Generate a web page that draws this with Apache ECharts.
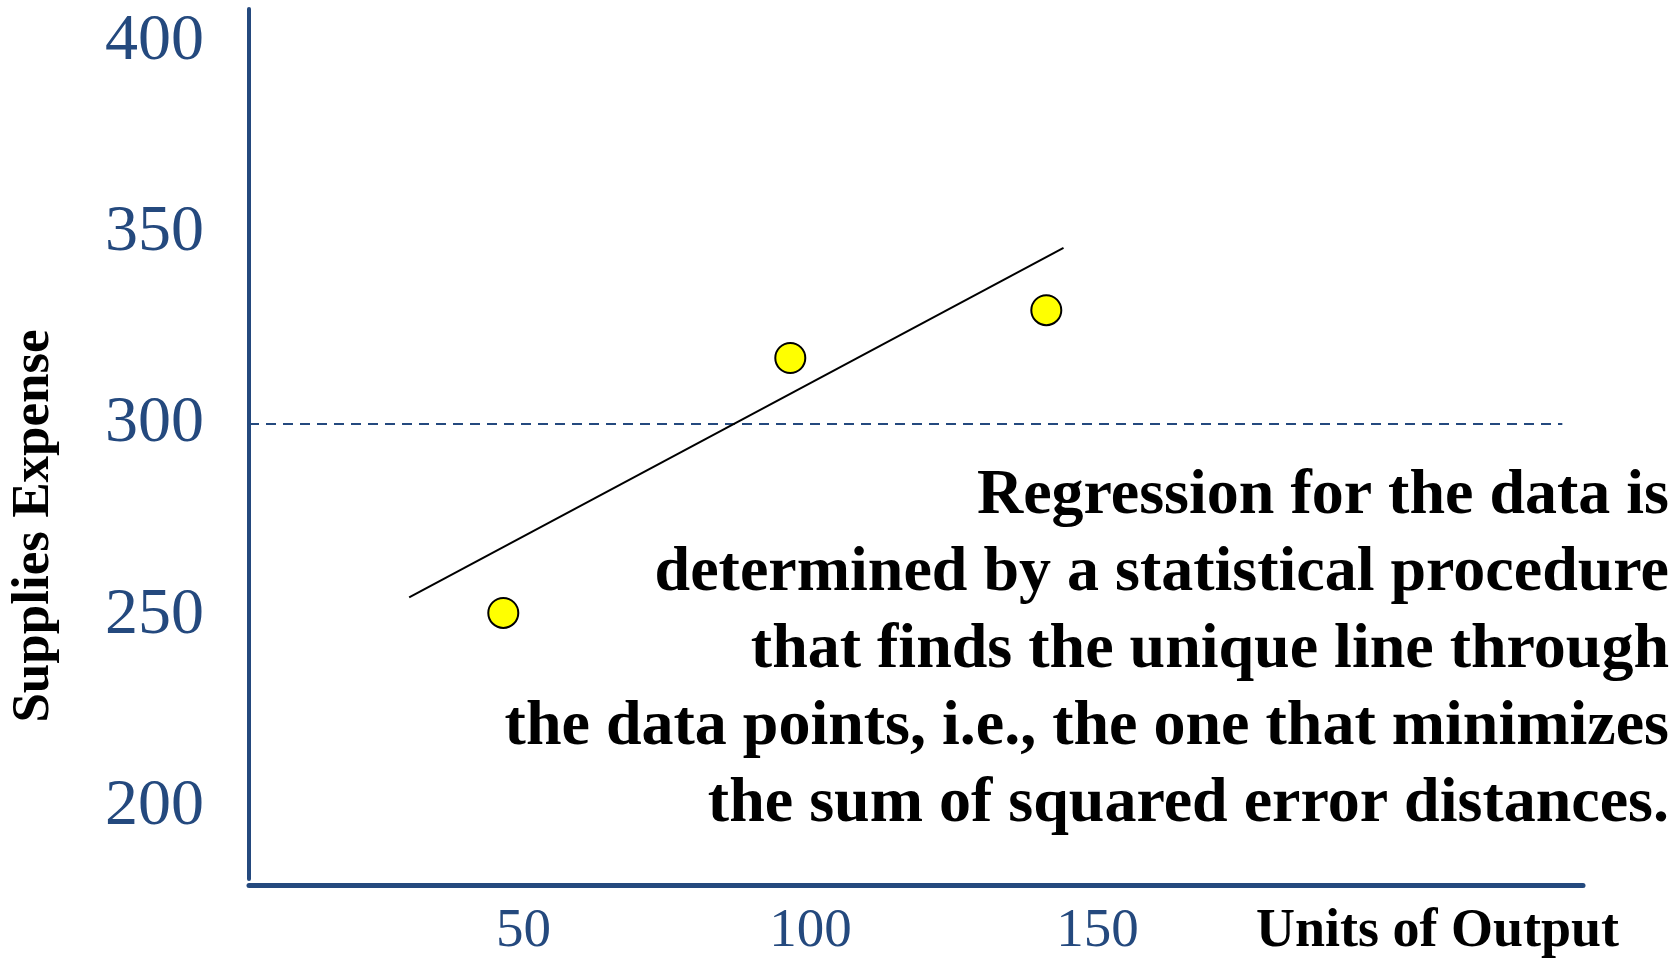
<!DOCTYPE html>
<html>
<head>
<meta charset="utf-8">
<script src="https://cdn.jsdelivr.net/npm/echarts@6/dist/echarts.min.js"></script>
<style>
  html, body { margin: 0; padding: 0; background: #ffffff; }
  #chart { width: 1680px; height: 959px; }
</style>
</head>
<body>
<div id="chart"></div>
<script>
// ---- data ----
const xTickLabels = [50, 100, 150];
const yTickLabels = [200, 250, 300, 350, 400];
const pointsX = [46.5, 96.5, 141.1];
const pointsY = [250.6, 317.3, 329.8];
const fitLineX = [30.1, 144.1];
const fitLineY = [254.7, 346.1];
const refLineY = [300, 300];
const refLineX = [2.2, 231];
const xRange = [2.2, 234.6];
const yRange = [181, 408.6];
const xAxisTitle = 'Units of Output';
const yAxisTitle = 'Supplies Expense';
const noteLines = [
  'Regression for the data is',
  'determined by a statistical procedure',
  'that finds the unique line through',
  'the data points, i.e., the one that minimizes',
  'the sum of squared error distances.'
];

const AXIS_BLUE = '#24497E';
const SERIF = '"Liberation Serif", "Times New Roman", serif';

const chart = echarts.init(document.getElementById('chart'), null, { renderer: 'canvas' });

const scatterData = pointsX.map((x, i) => [x, pointsY[i]]);
const fitData = fitLineX.map((x, i) => [x, fitLineY[i]]);
const refData = refLineX.map((x, i) => [x, refLineY[i]]);

chart.setOption({
  animation: false,
  backgroundColor: '#ffffff',
  grid: { left: 247, right: 97, top: 9, bottom: 76, containLabel: false },
  xAxis: {
    type: 'value',
    min: xRange[0],
    max: xRange[1],
    offset: 6,
    axisLine: { show: true, lineStyle: { color: AXIS_BLUE, width: 5 } },
    axisTick: { show: false },
    splitLine: { show: false },
    axisLabel: {
      customValues: xTickLabels,
      margin: 19,
      color: AXIS_BLUE,
      fontFamily: SERIF,
      fontSize: 55
    },
    name: xAxisTitle,
    nameLocation: 'end',
    nameGap: 36,
    nameTextStyle: {
      color: '#000000',
      fontFamily: SERIF,
      fontWeight: 'bold',
      fontSize: 54,
      align: 'right',
      verticalAlign: 'top',
      padding: [20, 0, 0, 0]
    }
  },
  yAxis: {
    type: 'value',
    min: yRange[0],
    max: yRange[1],
    axisLine: { show: true, lineStyle: { color: AXIS_BLUE, width: 4 } },
    axisTick: { show: false },
    splitLine: { show: false },
    axisLabel: {
      customValues: yTickLabels,
      margin: 45,
      color: AXIS_BLUE,
      fontFamily: SERIF,
      fontSize: 66,
      padding: [14, 0, 0, 0]
    },
    name: yAxisTitle,
    nameLocation: 'middle',
    nameRotate: 90,
    nameGap: 188,
    nameTextStyle: {
      color: '#000000',
      fontFamily: SERIF,
      fontWeight: 'bold',
      fontSize: 53,
      padding: [0, 164, 0, 0]
    }
  },
  graphic: [{
    type: 'text',
    x: 1669,
    y: 458,
    silent: true,
    style: {
      text: noteLines.join('\n'),
      font: 'bold 64px ' + SERIF,
      fill: '#000000',
      align: 'right',
      verticalAlign: 'top',
      lineHeight: 77
    }
  }],
  series: [
    {
      type: 'line',
      data: refData,
      symbol: 'none',
      silent: true,
      lineStyle: { color: AXIS_BLUE, width: 2, type: [10, 7] },
      z: 1
    },
    {
      type: 'line',
      data: fitData,
      symbol: 'none',
      silent: true,
      lineStyle: { color: '#000000', width: 2 },
      z: 2
    },
    {
      type: 'scatter',
      data: scatterData,
      symbol: 'circle',
      symbolSize: 30,
      itemStyle: { color: '#FFFF00', borderColor: '#000000', borderWidth: 2, opacity: 1 },
      z: 3
    }
  ]
});
</script>
</body>
</html>
